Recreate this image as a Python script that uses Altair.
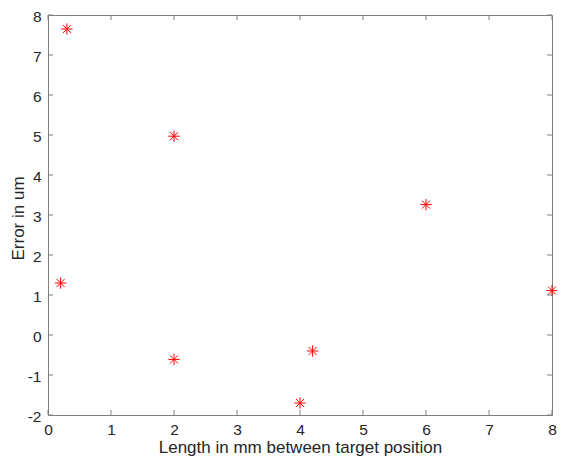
import altair as alt
import pandas as pd

# data
x_vals = [0.3, 0.2, 2.0, 2.0, 4.0, 4.2, 6.0, 8.0]
y_vals = [7.65, 1.30, 4.97, -0.61, -1.70, -0.40, 3.26, 1.11]
x_ticks = [0, 1, 2, 3, 4, 5, 6, 7, 8]
y_ticks = [-2, -1, 0, 1, 2, 3, 4, 5, 6, 7, 8]

W, H = 504, 400
TL = 5
AX = "#7f7f7f"
TXT = "#262626"
FONT = "Liberation Sans"
LFS = 15.5
TFS = 17
XT = "Length in mm between target position"
YT = "Error in um"

pts = pd.DataFrame({"x": x_vals, "y": y_vals})
xt = pd.DataFrame({"v": x_ticks})
yt = pd.DataFrame({"v": y_ticks})

xscale = alt.Scale(domain=[0, 8], nice=False, zero=False)
yscale = alt.Scale(domain=[-2, 8], nice=False, zero=False)

xaxis = alt.Axis(values=x_ticks, ticks=False, tickSize=0, domain=False, grid=False,
                 labelExpr="'' + datum.value", labelOverlap=False,
                 labelBaseline="alphabetic", labelPadding=19,
                 titleBaseline="alphabetic", titleY=37,
                 labelFontSize=LFS, titleFontSize=TFS,
                 labelColor=TXT, titleColor=TXT, labelFont=FONT, titleFont=FONT,
                 titleFontWeight="normal", labelFlush=False)
yaxis = alt.Axis(values=y_ticks, ticks=False, tickSize=0, domain=False, grid=False,
                 labelExpr="'' + datum.value", labelOverlap=False,
                 labelPadding=7, labelOffset=1,
                 titleBaseline="alphabetic", titleX=-25, titleY=H / 2 + 3,
                 labelFontSize=LFS, titleFontSize=TFS,
                 labelColor=TXT, titleColor=TXT, labelFont=FONT, titleFont=FONT,
                 titleFontWeight="normal", labelFlush=False)

star = "M-1,0L1,0M0,-1L0,1M-0.7,-0.7L0.7,0.7M-0.7,0.7L0.7,-0.7"

points = alt.Chart(pts).mark_point(shape=star, filled=False, color="#ff0000",
                                   strokeWidth=1, size=130, opacity=1).encode(
    x=alt.X("x:Q", scale=xscale, axis=xaxis, title=XT),
    y=alt.Y("y:Q", scale=yscale, axis=yaxis, title=YT),
)

bottom = alt.Chart(xt).mark_rule(color=AX, strokeWidth=1).encode(
    x=alt.X("v:Q", scale=xscale, axis=xaxis, title=XT), y=alt.value(H), y2=alt.value(H - TL))
top = alt.Chart(xt).mark_rule(color=AX, strokeWidth=1).encode(
    x=alt.X("v:Q", scale=xscale, axis=xaxis, title=XT), y=alt.value(0), y2=alt.value(TL))
left = alt.Chart(yt).mark_rule(color=AX, strokeWidth=1).encode(
    y=alt.Y("v:Q", scale=yscale, axis=yaxis, title=YT), x=alt.value(0), x2=alt.value(TL))
right = alt.Chart(yt).mark_rule(color=AX, strokeWidth=1).encode(
    y=alt.Y("v:Q", scale=yscale, axis=yaxis, title=YT), x=alt.value(W), x2=alt.value(W - TL))

chart = alt.layer(points, bottom, top, left, right).properties(
    width=W, height=H,
    autosize=alt.AutoSizeParams(type="none"),
    padding={"left": 40, "top": 7, "right": 5, "bottom": 41},
    background="white",
).configure_view(stroke=AX, strokeWidth=1)

chart.save("out.html", embed_options={"renderer": "svg", "actions": False})
